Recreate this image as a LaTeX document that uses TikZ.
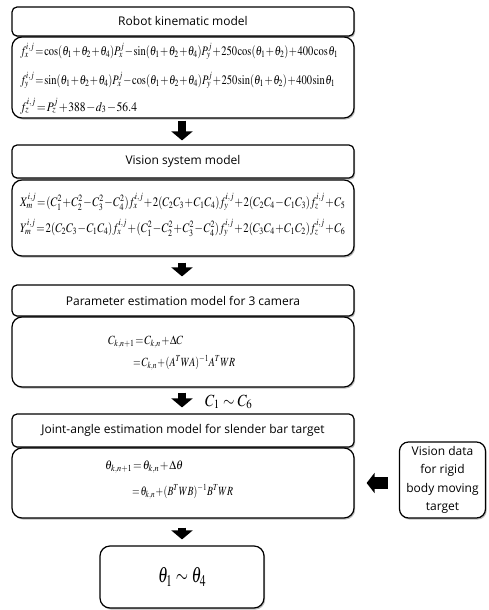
\documentclass[tikz,border=0pt]{standalone}
\usepackage{mathptmx}
\usepackage{graphicx}
\usepackage{fontspec}
\setmainfont{Liberation Serif}
\setsansfont{Open Sans}
\usetikzlibrary{shadows,arrows.meta}
\newcommand{\eqfit}[3]{\fontsize{#2}{#2}\selectfont\thinmuskip=1mu\medmuskip=1mu\thickmuskip=1.5mu\resizebox{#1}{\height}{$#3$}}
\tikzset{
  boxshadow/.style={drop shadow={shadow xshift=1.2pt, shadow yshift=-1.6pt, fill=black!45, opacity=.6}},
  titlebox/.style={draw, rounded corners=5pt, line width=1.2pt, fill=white, minimum width=342pt, inner sep=0pt,
    font=\sffamily\fontsize{12}{14}\selectfont, boxshadow},
  eqbox/.style={draw, rounded corners=10pt, line width=1.2pt, fill=white, minimum width=342pt, inner sep=0pt, boxshadow},
  eqtext/.style={anchor=west, inner sep=0pt},
  downarrow/.style={line width=8.5pt, -{Triangle[width=21pt,length=9pt]}},
  leftarrow/.style={line width=12pt, -{Triangle[width=20pt,length=8pt]}},
}
\begin{document}
\begin{tikzpicture}[x=1pt,y=-1pt]
\useasboundingbox (0,0) rectangle (488,610);
% Box 1
\node[titlebox, minimum height=29pt] (t1) at (183,21.5) {Robot kinematic model};
\node[eqbox, minimum height=81pt] (e1) at (183,77.5) {};
\node[eqtext] (e1a) at (20,51) {\eqfit{318pt}{13}{f_x^{i,j}=\cos(\theta_1+\theta_2+\theta_4)P_x^j-\sin(\theta_1+\theta_2+\theta_4)P_y^j+250\cos(\theta_1+\theta_2)+400\cos\theta_1}};
\node[eqtext] (e1b) at (20,80) {\eqfit{315pt}{13}{f_y^{i,j}=\sin(\theta_1+\theta_2+\theta_4)P_x^j-\cos(\theta_1+\theta_2+\theta_4)P_y^j+250\sin(\theta_1+\theta_2)+400\sin\theta_1}};
\node[eqtext] (e1c) at (20,106) {\eqfit{117pt}{13}{f_z^{i,j}=P_z^j+388-d_3-56.4}};
% Box 2
\node[titlebox, minimum height=33pt] (t2) at (183,161.5) {Vision system model};
\node[eqbox, minimum height=76pt] (e2) at (183,218) {};
\node[eqtext] (e2a) at (20,202) {\eqfit{325pt}{13}{X_m^{i,j}=(C_1^2+C_2^2-C_3^2-C_4^2)f_x^{i,j}+2(C_2C_3+C_1C_4)f_y^{i,j}+2(C_2C_4-C_1C_3)f_z^{i,j}+C_5}};
\node[eqtext] (e2b) at (20,228) {\eqfit{325pt}{13}{Y_m^{i,j}=2(C_2C_3-C_1C_4)f_x^{i,j}+(C_1^2-C_2^2+C_3^2-C_4^2)f_y^{i,j}+2(C_3C_4+C_1C_2)f_z^{i,j}+C_6}};
% Box 3
\node[titlebox, minimum height=31pt] (t3) at (183,300.5) {Parameter estimation model for 3 camera};
\node[eqbox, minimum height=70pt] (e3) at (183,352) {};
\node[eqtext] (e3a) at (108,342) {\eqfit{75pt}{12.5}{C_{k,n+1}=C_{k,n}+\Delta C}};
\node[eqtext] (e3b) at (133,363) {\eqfit{102pt}{12.5}{=C_{k,n}+(A^TWA)^{-1}A^TWR}};
% Box 4
\node[titlebox, minimum height=33pt] (t4) at (183,430.5) {Joint-angle estimation model for slender bar target};
\node[eqbox, minimum height=70pt] (e4) at (183,483) {};
\node[eqtext] (e4a) at (105,467) {\eqfit{78pt}{12.5}{\theta_{k,n+1}=\theta_{k,n}+\Delta\theta}};
\node[eqtext] (e4b) at (132,492) {\eqfit{101pt}{12.5}{=\theta_{k,n}+(B^TWB)^{-1}B^TWR}};
% Right box
\node[draw, rounded corners=9pt, line width=1.2pt, fill=white, minimum width=86pt, minimum height=76pt, inner sep=0pt,
  align=center, font=\sffamily\fontsize{12}{18.5}\selectfont, boxshadow] (rb) at (442.5,480) {Vision data\\for rigid\\body moving\\target};
% Final box
\node[draw, rounded corners=10pt, line width=1.2pt, fill=white, minimum width=164pt, minimum height=62pt, inner sep=0pt, boxshadow] (fin) at (182,577) {\fontsize{22}{24}\selectfont\resizebox{48pt}{\height}{$\theta_1\sim\theta_4$}};
% Arrows
\draw[downarrow, shorten <=2pt, shorten >=4pt] (e1.south -| fin.north) -- (t2.north -| fin.north);
\draw[downarrow, shorten <=6pt, shorten >=8pt] (e2.south -| fin.north) -- (t3.north -| fin.north);
\draw[downarrow, shorten <=5pt, shorten >=6pt] (e3.south -| fin.north) -- (t4.north -| fin.north);
\draw[downarrow, shorten <=9pt, shorten >=6pt] (e4.south -| fin.north) -- (fin.north);
\draw[leftarrow, shorten <=11pt, shorten >=12pt] (rb.west |- e4.east) -- (e4.east);
\node[anchor=west, inner sep=0pt] (clab) at (205,402) {\fontsize{17}{19}\selectfont\resizebox{47pt}{\height}{$C_1\sim C_6$}};
\end{tikzpicture}
\end{document}
